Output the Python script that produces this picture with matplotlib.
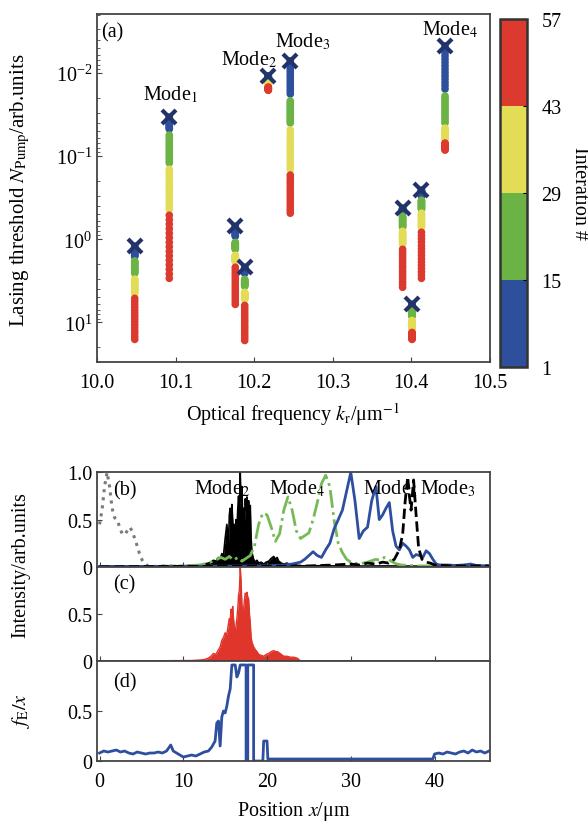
import numpy as np
import matplotlib
matplotlib.use('Agg')
import matplotlib.pyplot as plt
from matplotlib.colors import ListedColormap, BoundaryNorm

plt.rcParams['font.family'] = ['Liberation Serif', 'DejaVu Serif']
plt.rcParams['mathtext.fontset'] = 'stix'
plt.rcParams['font.size'] = 14.5

# ---------------- (a) limiares por iteracao ----------------
iteracoes = list(range(1, 58))

freqs = [10.048, 10.092, 10.176, 10.188, 10.218, 10.246, 10.389, 10.401, 10.413, 10.443]

lim_1 = [1.21, 1.24, 1.27, 1.30, 1.33, 1.36, 1.39, 1.42, 1.45, 1.48, 1.52, 1.55, 1.58, 1.62,
         1.82, 1.87, 1.92, 1.97, 2.02, 2.08, 2.13, 2.19, 2.25, 2.31, 2.37, 2.44, 2.50, 2.57,
         3.02, 3.11, 3.21, 3.30, 3.40, 3.51, 3.61, 3.73, 3.85, 3.96, 4.08, 4.21, 4.34, 4.47,
         5.13, 5.56, 6.04, 6.55, 7.10, 7.71, 8.36, 9.08, 9.84, 10.7, 11.6, 12.6, 13.6, 14.8, 16.0]
lim_2 = [0.0339, 0.0348, 0.0356, 0.0366, 0.0376, 0.0385, 0.0395, 0.0406, 0.0416, 0.0427, 0.0438, 0.0450, 0.0461, 0.0473,
         0.0558, 0.0593, 0.0630, 0.0668, 0.0710, 0.0753, 0.0800, 0.0849, 0.0902, 0.0955, 0.101, 0.108, 0.114, 0.121,
         0.144, 0.156, 0.170, 0.185, 0.202, 0.220, 0.240, 0.261, 0.284, 0.310, 0.337, 0.367, 0.400, 0.436,
         0.514, 0.582, 0.659, 0.746, 0.847, 0.959, 1.09, 1.23, 1.40, 1.58, 1.79, 2.03, 2.30, 2.61, 2.95]
lim_3 = [0.697, 0.711, 0.728, 0.743, 0.759, 0.776, 0.793, 0.809, 0.826, 0.845, 0.863, 0.881, 0.902, 0.920,
         1.09, 1.10, 1.12, 1.14, 1.15, 1.17, 1.19, 1.21, 1.22, 1.24, 1.26, 1.28, 1.30, 1.32,
         1.56, 1.58, 1.60, 1.62, 1.64, 1.66, 1.68, 1.70, 1.72, 1.74, 1.77, 1.79, 1.81, 1.84,
         2.17, 2.34, 2.52, 2.71, 2.91, 3.13, 3.37, 3.63, 3.91, 4.21, 4.53, 4.86, 5.24, 5.64, 6.07]
lim_4 = [2.17, 2.20, 2.23, 2.26, 2.29, 2.32, 2.35, 2.38, 2.41, 2.44, 2.47, 2.50, 2.53, 2.57,
         3.03, 3.08, 3.13, 3.18, 3.23, 3.28, 3.33, 3.38, 3.43, 3.48, 3.53, 3.58, 3.63, 3.68,
         4.35, 4.42, 4.49, 4.56, 4.63, 4.70, 4.77, 4.84, 4.91, 4.98, 5.06, 5.13, 5.20, 5.28,
         6.24, 6.68, 7.16, 7.67, 8.24, 8.83, 9.46, 10.1, 10.9, 11.6, 12.5, 13.4, 14.4, 15.4, 16.5]
lim_5 = [0.0109, 0.0109, 0.0110, 0.0110, 0.0111, 0.0112, 0.0113, 0.0113, 0.0114, 0.0115, 0.0116, 0.0116, 0.0117, 0.0118,
         0.0121, 0.0122, 0.0122, 0.0123, 0.0124, 0.0125, 0.0126, 0.0127, 0.0128, 0.0129, 0.0130, 0.0130, 0.0131, 0.0132,
         0.0133, 0.0134, 0.0135, 0.0136, 0.0137, 0.0138, 0.0139, 0.0140, 0.0141, 0.0141, 0.0142, 0.0143, 0.0144, 0.0144,
         0.0148, 0.0149, 0.0150, 0.0151, 0.0152, 0.0153, 0.0154, 0.0155, 0.0156, 0.0157, 0.0158, 0.0159, 0.0160, 0.0160, 0.0161]
lim_6 = [0.00716, 0.00769, 0.00824, 0.00885, 0.00948, 0.0102, 0.0109, 0.0117, 0.0126, 0.0135, 0.0145, 0.0156, 0.0167, 0.0179,
         0.0217, 0.0228, 0.0239, 0.0250, 0.0262, 0.0275, 0.0288, 0.0302, 0.0316, 0.0331, 0.0348, 0.0364, 0.0382, 0.0400,
         0.0486, 0.0528, 0.0574, 0.0625, 0.0679, 0.0738, 0.0802, 0.0871, 0.0946, 0.103, 0.112, 0.122, 0.132, 0.144,
         0.169, 0.183, 0.197, 0.212, 0.229, 0.247, 0.266, 0.287, 0.310, 0.333, 0.360, 0.388, 0.419, 0.451, 0.486]
lim_7 = [0.423, 0.427, 0.430, 0.434, 0.437, 0.441, 0.445, 0.449, 0.452, 0.456, 0.460, 0.464, 0.468, 0.473,
         0.528, 0.541, 0.553, 0.567, 0.580, 0.594, 0.608, 0.622, 0.637, 0.652, 0.668, 0.684, 0.700, 0.717,
         0.801, 0.824, 0.846, 0.870, 0.894, 0.919, 0.945, 0.971, 0.998, 1.03, 1.05, 1.08, 1.11, 1.15,
         1.32, 1.42, 1.53, 1.65, 1.78, 1.92, 2.07, 2.23, 2.41, 2.59, 2.80, 3.02, 3.26, 3.51, 3.78]
lim_8 = [6.07, 6.11, 6.15, 6.19, 6.23, 6.27, 6.31, 6.35, 6.39, 6.43, 6.47, 6.51, 6.55, 6.60,
         7.17, 7.27, 7.37, 7.47, 7.57, 7.67, 7.77, 7.87, 7.97, 8.07, 8.17, 8.27, 8.37, 8.47,
         9.46, 9.66, 9.86, 10.1, 10.3, 10.5, 10.7, 10.9, 11.1, 11.3, 11.5, 11.7, 11.9, 12.1,
         13.2, 13.4, 13.6, 13.8, 14.0, 14.2, 14.4, 14.6, 14.8, 15.0, 15.2, 15.4, 15.6, 15.8, 16.0]
lim_9 = [0.257, 0.260, 0.263, 0.266, 0.269, 0.272, 0.275, 0.279, 0.283, 0.287, 0.291, 0.295, 0.299, 0.303,
         0.339, 0.346, 0.353, 0.360, 0.367, 0.374, 0.381, 0.389, 0.397, 0.405, 0.413, 0.421, 0.428, 0.435,
         0.486, 0.501, 0.516, 0.531, 0.547, 0.563, 0.580, 0.597, 0.615, 0.634, 0.653, 0.673, 0.694, 0.717,
         0.824, 0.904, 0.989, 1.08, 1.19, 1.30, 1.43, 1.56, 1.71, 1.87, 2.05, 2.25, 2.46, 2.70, 2.95]
lim_10 = [0.00473, 0.00519, 0.00569, 0.00622, 0.00682, 0.00748, 0.00820, 0.00899, 0.00986, 0.0108, 0.0118, 0.0130, 0.0142, 0.0156,
          0.0189, 0.0200, 0.0212, 0.0225, 0.0238, 0.0252, 0.0267, 0.0283, 0.0300, 0.0318, 0.0337, 0.0356, 0.0378, 0.0400,
          0.0460, 0.0471, 0.0482, 0.0494, 0.0506, 0.0518, 0.0531, 0.0544, 0.0557, 0.0570, 0.0584, 0.0598, 0.0611, 0.0624,
          0.0697, 0.0707, 0.0717, 0.0727, 0.0737, 0.0747, 0.0757, 0.0767, 0.0777, 0.0787, 0.0797, 0.0807, 0.0817, 0.0832, 0.0847]

nomes_modos = ['Mode$_1$', 'Mode$_2$', 'Mode$_3$', 'Mode$_4$']
pos_nomes = [(10.094, 0.0179), (10.193, 0.00678), (10.262, 0.00411), (10.449, 0.00295)]

# ---------------- (b)-(d) perfis espaciais ----------------
cinza = [(0, 0.45), (0.3, 0.6), (0.6, 0.85), (0.9, 1.0), (1.2, 0.85), (1.5, 0.62),
         (1.8, 0.52), (2.1, 0.5), (2.4, 0.42), (2.7, 0.35), (3.0, 0.34), (3.3, 0.38),
         (3.6, 0.42), (3.9, 0.38), (4.2, 0.3), (4.5, 0.22), (4.8, 0.13), (5.1, 0.07),
         (5.4, 0.03), (5.8, 0.01), (6.5, 0.005), (8, 0.01), (10, 0.005), (12, 0.01), (14, 0.005)]

modo_2 = [(0, 0.005), (4, 0.008), (8, 0.01), (10, 0.012), (11, 0.015), (12, 0.02),
          (12.5, 0.03), (13, 0.04), (13.3, 0.05), (13.6, 0.07), (13.9, 0.06), (14.2, 0.1),
          (14.4, 0.08), (14.6, 0.14), (14.8, 0.12), (15.0, 0.3), (15.2, 0.45), (15.4, 0.25),
          (15.5, 0.55), (15.6, 0.62), (15.7, 0.4), (15.8, 0.66), (15.9, 0.5), (16.0, 0.3),
          (16.1, 0.45), (16.2, 0.28), (16.3, 0.5), (16.4, 0.35), (16.5, 0.6), (16.6, 0.75),
          (16.7, 0.55), (16.8, 1.0), (16.9, 0.7), (17.0, 0.85), (17.1, 0.5), (17.2, 0.62),
          (17.3, 0.45), (17.4, 0.72), (17.5, 0.6), (17.6, 0.74), (17.7, 0.55), (17.8, 0.7),
          (17.9, 0.5), (18.0, 0.65), (18.1, 0.3), (18.2, 0.15), (18.4, 0.08), (18.6, 0.05),
          (18.8, 0.07), (19.0, 0.04), (19.3, 0.05), (19.6, 0.03), (19.9, 0.05), (20.2, 0.06),
          (20.5, 0.09), (20.8, 0.11), (21.0, 0.08), (21.2, 0.1), (21.4, 0.06), (21.7, 0.04),
          (22.0, 0.03), (22.4, 0.04), (22.8, 0.02), (23.2, 0.03), (23.6, 0.015), (24, 0.01),
          (26, 0.012), (30, 0.008), (34, 0.01), (38, 0.008), (42, 0.012), (46.5, 0.01)]

modo_4 = [(0, 0.0), (6, 0.005), (10, 0.01), (12, 0.02), (13, 0.04), (14, 0.08), (14.5, 0.1),
          (15, 0.08), (15.5, 0.11), (16, 0.07), (16.5, 0.1), (17, 0.06), (17.5, 0.09),
          (18, 0.12), (18.5, 0.22), (19, 0.45), (19.5, 0.57), (20, 0.55), (20.5, 0.42),
          (21, 0.27), (21.5, 0.35), (22, 0.6), (22.5, 0.74), (23, 0.6), (23.5, 0.38),
          (24, 0.3), (24.5, 0.33), (25, 0.36), (25.5, 0.5), (26, 0.68), (26.5, 0.88),
          (27, 0.97), (27.5, 0.85), (28, 0.5), (28.5, 0.25), (29, 0.15), (29.5, 0.08),
          (30, 0.05), (31, 0.03), (32, 0.05), (33, 0.08), (33.5, 0.07), (34, 0.1),
          (34.5, 0.08), (35, 0.05), (35.5, 0.03), (36, 0.02), (38, 0.01), (40, 0.01),
          (42, 0.005), (46.5, 0.005)]

modo_1 = [(0, 0.005), (10, 0.005), (20, 0.01), (22, 0.02), (23, 0.03), (24, 0.05),
          (24.5, 0.08), (25, 0.12), (25.5, 0.16), (26, 0.12), (26.5, 0.1), (27, 0.18),
          (27.5, 0.25), (28, 0.4), (28.5, 0.5), (29, 0.6), (29.5, 0.8), (30, 1.0),
          (30.5, 0.7), (31, 0.3), (31.5, 0.38), (32, 0.42), (32.5, 0.7), (33, 0.85),
          (33.4, 0.5), (33.8, 0.55), (34.2, 0.62), (34.6, 0.68), (35, 0.38), (35.4, 0.22),
          (35.8, 0.18), (36.2, 0.25), (36.6, 0.22), (37, 0.18), (37.4, 0.1), (37.8, 0.13),
          (38.2, 0.12), (38.6, 0.1), (39, 0.17), (39.4, 0.14), (39.8, 0.08), (40.2, 0.03),
          (40.6, 0.02), (41.5, 0.02), (42.5, 0.015), (43.5, 0.02), (44.3, 0.03),
          (45, 0.015), (46.5, 0.01)]

modo_3 = [(0, 0.0), (10, 0.005), (20, 0.005), (25, 0.01), (28, 0.02), (30, 0.03),
          (31, 0.02), (32, 0.04), (33, 0.03), (33.8, 0.05), (34.5, 0.04), (35.2, 0.08),
          (35.8, 0.18), (36.2, 0.35), (36.5, 0.7), (36.8, 0.95), (37.0, 0.75), (37.2, 0.6),
          (37.5, 0.92), (37.8, 0.55), (38.1, 0.2), (38.5, 0.08), (39, 0.05), (39.5, 0.04),
          (40, 0.02), (42, 0.01), (46.5, 0.01)]

bombeio = [(0, 0.0), (8, 0.003), (11, 0.005), (12, 0.01), (12.5, 0.015), (13, 0.03),
           (13.3, 0.05), (13.6, 0.08), (13.9, 0.07), (14.2, 0.12), (14.4, 0.15), (14.6, 0.22),
           (14.8, 0.25), (15.0, 0.3), (15.2, 0.28), (15.4, 0.4), (15.5, 0.45), (15.6, 0.42),
           (15.7, 0.55), (15.8, 0.5), (15.9, 0.58), (16.0, 0.45), (16.1, 0.35), (16.2, 0.3),
           (16.3, 0.38), (16.4, 0.45), (16.5, 0.55), (16.6, 0.7), (16.7, 0.75), (16.8, 1.0),
           (16.9, 0.85), (17.0, 0.6), (17.1, 0.5), (17.2, 0.55), (17.3, 0.65), (17.4, 0.72),
           (17.5, 0.7), (17.6, 0.73), (17.7, 0.68), (17.8, 0.66), (17.9, 0.5), (18.0, 0.4),
           (18.1, 0.25), (18.2, 0.2), (18.4, 0.15), (18.6, 0.12), (18.8, 0.1), (19.0, 0.07),
           (19.3, 0.06), (19.6, 0.05), (19.9, 0.07), (20.2, 0.08), (20.5, 0.1), (20.8, 0.11),
           (21.0, 0.1), (21.2, 0.1), (21.4, 0.09), (21.7, 0.07), (22.0, 0.05), (22.4, 0.05),
           (22.8, 0.04), (23.2, 0.04), (23.6, 0.03), (24, 0.0), (30, 0.0), (46.5, 0.0)]

fe = [(0, 0.08), (0.5, 0.1), (1, 0.09), (1.5, 0.1), (2, 0.11), (2.5, 0.09), (3, 0.1),
      (3.5, 0.08), (4, 0.07), (4.5, 0.09), (5, 0.08), (5.5, 0.07), (6, 0.08), (6.5, 0.08),
      (7, 0.09), (7.5, 0.08), (8, 0.1), (8.5, 0.16), (8.8, 0.1), (9.2, 0.08), (9.6, 0.06),
      (10, 0.04), (10.5, 0.05), (11, 0.06), (11.5, 0.05), (12, 0.07), (12.5, 0.09),
      (13, 0.1), (13.4, 0.14), (13.8, 0.2), (14.0, 0.38), (14.2, 0.4), (14.4, 0.15),
      (14.6, 0.44), (14.8, 0.5), (15.0, 0.48), (15.2, 0.55), (15.4, 0.65), (15.6, 0.72),
      (15.8, 0.96), (16.0, 0.96), (16.2, 0.96), (16.4, 0.84), (16.6, 0.88), (16.8, 0.96),
      (17.5, 0.96), (17.5, 0.0), (17.7, 0.0), (17.7, 0.96), (18.4, 0.96), (18.4, 0.0),
      (19.5, 0.0), (19.6, 0.2), (20.0, 0.2), (20.1, 0.02), (25, 0.02), (30, 0.02),
      (35, 0.02), (39.8, 0.02), (40.0, 0.07), (40.5, 0.08), (41, 0.07), (41.5, 0.09),
      (42, 0.08), (42.5, 0.07), (43, 0.09), (43.5, 0.1), (44, 0.08), (44.5, 0.11),
      (45, 0.09), (45.5, 0.1), (46, 0.08), (46.5, 0.1)]

cores_iter = ['#2d4f9c', '#6cb346', '#e3dc56', '#dd3a2f']
azul = '#2e4f9f'
cor_eixo = '#444444'
fs = 14.5


def estilo(ax):
    for s in ax.spines.values():
        s.set_color(cor_eixo)
        s.set_linewidth(1.3)
    ax.tick_params(direction='in', which='both', top=False, right=False,
                   color=cor_eixo, labelsize=fs)


fig = plt.figure(figsize=(5.88, 8.29), dpi=100)

# ---------- painel (a) ----------
ax_a = fig.add_axes([0.165, 0.562, 0.668, 0.420])
cax = fig.add_axes([0.850, 0.556, 0.047, 0.420])
cmap = ListedColormap(cores_iter)
norm = BoundaryNorm([1, 15, 29, 43, 57], cmap.N)

limiares = [lim_1, lim_2, lim_3, lim_4, lim_5, lim_6, lim_7, lim_8, lim_9, lim_10]
for f, lim in zip(freqs, limiares):
    sc = ax_a.scatter(np.full(len(lim), f), lim, c=iteracoes, cmap=cmap, norm=norm,
                      s=30, edgecolors='none', zorder=2)
    ax_a.plot(f, lim[0], marker='x', color='#22336a', ms=10, mew=3, zorder=3)

ax_a.set_yscale('log')
ax_a.set_ylim(30, 0.00195)
ax_a.set_xlim(10.0, 10.5)
ax_a.set_xticks([10.0, 10.1, 10.2, 10.3, 10.4, 10.5])
ax_a.set_xticklabels(['10.0', '10.1', '10.2', '10.3', '10.4', '10.5'])
estilo(ax_a)
ax_a.tick_params(axis='x', pad=8)
for nome, (x, y) in zip(nomes_modos, pos_nomes):
    ax_a.text(x, y, nome, ha='center', va='center', fontsize=fs)
ax_a.text(0.01, 0.948, '(a)', transform=ax_a.transAxes, ha='left', va='center', fontsize=fs)
ax_a.set_xlabel(r'Optical frequency $k_{\mathrm{r}}$/μm$^{-1}$', fontsize=fs, labelpad=6)
fig.text(0.035, 0.77, r'Lasing threshold $N_{\mathrm{Pump}}$/arb.units',
         rotation=90, ha='center', va='center', fontsize=fs + 0.5)

cb = fig.colorbar(sc, cax=cax, ticks=[1, 15, 29, 43, 57])
cb.outline.set_linewidth(1.8)
cb.outline.set_edgecolor('#333333')
cb.ax.tick_params(direction='in', length=3, labelsize=fs, pad=10)
cb.set_label('Interation #', rotation=270, labelpad=20, fontsize=fs)

# ---------- paineis (b), (c), (d) ----------
ax_b = fig.add_axes([0.165, 0.315, 0.668, 0.114])
ax_c = fig.add_axes([0.165, 0.2015, 0.668, 0.1135])
ax_d = fig.add_axes([0.165, 0.0808, 0.668, 0.1207])

xg, yg = zip(*cinza)
ax_b.plot(xg, yg, ls=':', color='#7a7a7a', lw=2.2)
x2, y2 = zip(*modo_2)
ax_b.fill_between(x2, y2, color='black', lw=0)
ax_b.plot(x2, y2, color='black', lw=1.2)
x4, y4 = zip(*modo_4)
ax_b.plot(x4, y4, ls='-.', color='#76ba58', lw=2.0)
x1, y1 = zip(*modo_1)
ax_b.plot(x1, y1, color=azul, lw=2.0)
x3, y3 = zip(*modo_3)
ax_b.plot(x3, y3, ls='--', color='black', lw=2.0)

ax_b.text(14.6, 0.84, 'Mode$_2$', ha='center', va='center', fontsize=fs)
ax_b.text(23.6, 0.84, 'Mode$_4$', ha='center', va='center', fontsize=fs)
ax_b.text(34.7, 0.84, 'Mode$_1$', ha='center', va='center', fontsize=fs)
ax_b.text(41.6, 0.84, 'Mode$_3$', ha='center', va='center', fontsize=fs)

xp, yp = zip(*bombeio)
ax_c.fill_between(xp, yp, color='#e0352b', lw=0)
ax_c.plot(xp, yp, color='#e0352b', lw=1.0)

xf, yf = zip(*fe)
ax_d.plot(xf, yf, color=azul, lw=2.0)

for ax, rot in zip([ax_b, ax_c, ax_d], ['(b)', '(c)', '(d)']):
    ax.set_xlim(-0.3, 46.6)
    ax.set_ylim(0, 1.0)
    ax.set_xticks([0, 10, 20, 30, 40])
    estilo(ax)
    ax.text(0.04, 0.82 if rot != '(d)' else 0.79, rot, transform=ax.transAxes,
            ha='left', va='center', fontsize=fs)

ax_b.set_yticks([0, 0.5, 1.0])
ax_b.set_yticklabels(['0', '0.5', '1.0'])
ax_c.set_yticks([0, 0.5])
ax_c.set_yticklabels(['0', '0.5'])
ax_d.set_yticks([0, 0.5])
ax_d.set_yticklabels(['0', '0.5'])
ax_b.tick_params(axis='x', labelbottom=False)
ax_c.tick_params(axis='x', labelbottom=False)
ax_d.tick_params(axis='x', pad=8)
ax_d.set_xlabel(r'Position $x$/μm', fontsize=fs, labelpad=6)

fig.text(0.035, 0.318, 'Intensity/arb.units', rotation=90, ha='center', va='center', fontsize=fs)
fig.text(0.035, 0.143, r'$f_{\mathrm{E}}/x$', rotation=90, ha='center', va='center', fontsize=fs)

fig.savefig('out.png', dpi=100)
